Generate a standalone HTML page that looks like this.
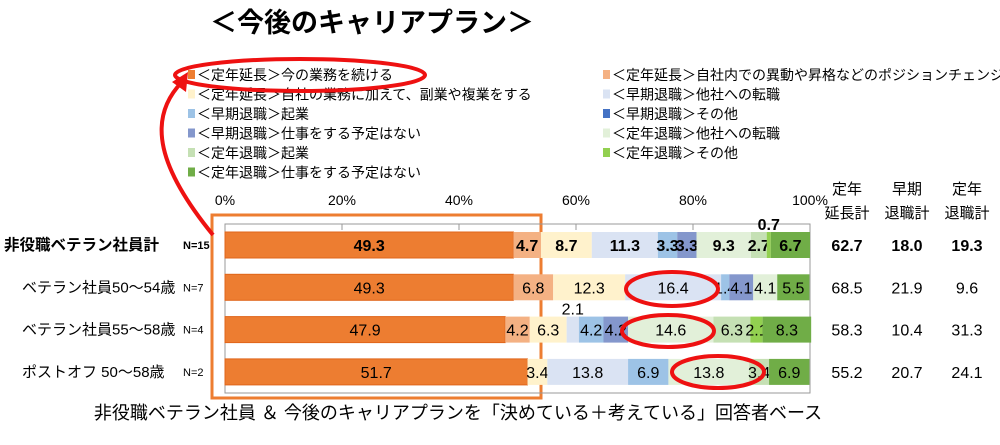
<!DOCTYPE html>
<html><head><meta charset="utf-8"><style>
body{margin:0;background:#fff;width:1000px;height:440px;overflow:hidden;font-family:"Liberation Sans","Noto Sans CJK JP",sans-serif}
svg text{font-family:"Liberation Sans","Noto Sans CJK JP",sans-serif}
</style></head><body>
<svg id="c" width="1000" height="440"></svg>
<script>
const categories=["非役職ベテラン社員計","ベテラン社員50～54歳","ベテラン社員55～58歳","ポストオフ 50～58歳"];
const sampleLabels=["N=15","N=7","N=4","N=2"];
const seriesNames=["＜定年延長＞今の業務を続ける","＜定年延長＞自社内での異動や昇格などのポジションチェンジ","＜定年延長＞自社の業務に加えて、副業や複業をする","＜早期退職＞他社への転職","＜早期退職＞起業","＜早期退職＞その他","＜早期退職＞仕事をする予定はない","＜定年退職＞他社への転職","＜定年退職＞起業","＜定年退職＞その他","＜定年退職＞仕事をする予定はない"];
const colors=["#ed7d31","#f4b183","#fff2cc","#dae3f3","#9dc3e6","#4472c4","#8497cc","#e2f0d9","#c5e0b4","#92d050","#70ad47"];
const row0=[49.3,4.7,8.7,11.3,3.3,0,3.3,9.3,2.7,0.7,6.7];
const row1=[49.3,6.8,12.3,16.4,1.4,0,4.1,4.1,0,0,5.5];
const row2=[47.9,4.2,6.3,2.1,4.2,0,4.2,14.6,6.3,2.1,8.3];
const row3=[51.7,0,3.4,13.8,6.9,0,0,13.8,3.4,0,6.9];
const rows=[row0,row1,row2,row3];
const totalHeaders=[["定年","延長計"],["早期","退職計"],["定年","退職計"]];
const totals=[[62.7,18.0,19.3],[68.5,21.9,9.6],[58.3,10.4,31.3],[55.2,20.7,24.1]];
const ticks=[0,20,40,60,80,100];

const NS="http://www.w3.org/2000/svg";
const svg=document.getElementById('c');
function el(tag,attrs,parent){const e=document.createElementNS(NS,tag);for(const k in attrs)e.setAttribute(k,attrs[k]);(parent||svg).appendChild(e);return e;}
const X0=225,X1=810,xs=v=>X0+(X1-X0)*v/100;
const rowY=i=>245+i*42.3;

let t=el('text',{x:210,y:32,'font-size':27,'font-weight':'bold',fill:'#000'});t.textContent="＜今後のキャリアプラン＞";


seriesNames.forEach((n,i)=>{
  const col=i%2,r=Math.floor(i/2);
  const x=col?603:188,y=75+r*19.5;
  const g=el('g',{});
  
  
  el('rect',{x:x,y:y-5,width:7,height:9,fill:colors[i]},g);
  const tx=el('text',{x:x+9,y:y+5,'font-size':14,fill:'#000'},g);tx.textContent=n;
});

let of=el('rect',{x:212,y:215,width:329,height:183,fill:'none',stroke:'#ed7d31','stroke-width':3});


el('rect',{x:X0,y:224,width:X1-X0,height:169,fill:'none',stroke:'#999','stroke-width':1});
ticks.forEach(v=>{
  el('line',{x1:xs(v),x2:xs(v),y1:224,y2:230,stroke:'#999'});
  const tk=el('text',{x:xs(v),y:205,'font-size':14,'text-anchor':'middle',fill:'#000'});tk.textContent=v+'%';
  
});

rows.forEach((vals,ri)=>{
  const cy=rowY(ri);let acc=0;
  const bold=ri===0;
  const cl=el('text',{x:ri===0?4:22,y:cy+5,'font-size':ri===0?15.5:15,'font-weight':bold?'bold':'normal',fill:'#000'});cl.textContent=categories[ri];
  
  const nl=el('text',{x:183,y:cy+4,'font-size':11,'font-weight':bold?'bold':'normal',fill:'#000'});nl.textContent=sampleLabels[ri];
  vals.forEach((v,si)=>{
    if(v<=0)return;
    const r=el('rect',{x:xs(acc),y:cy-13,width:xs(acc+v)-xs(acc),height:26,fill:colors[si],stroke:si===0?'#e0651a':'none','stroke-width':si===0?1:0});
    
    const mid=xs(acc+v/2);
    const above=v<1||(ri===2&&si===3);
    const lb=el('text',{x:mid,y:above?cy-15:cy+6,'font-size':16,'font-weight':bold?'bold':'normal','text-anchor':'middle',fill:'#000'});
    lb.textContent=v.toFixed(1);
    acc+=v;
  });
  totals[ri].forEach((v,k)=>{
    const tt=el('text',{x:847+k*60,y:cy+6,'font-size':16,'font-weight':bold?'bold':'normal','text-anchor':'middle',fill:'#000'});tt.textContent=v.toFixed(1);
    
  });
});
totalHeaders.forEach((h,k)=>{
  h.forEach((s,j)=>{const th=el('text',{x:847+k*60,y:194+j*24,'font-size':15,'text-anchor':'middle',fill:'#000'});th.textContent=s;});
});

[[300,75,125,16],[672,289,46,17],[668,331,46,16],[718,372,46,16]].forEach(e=>{
  const c=el('ellipse',{cx:e[0],cy:e[1],rx:e[2],ry:e[3],fill:'none',stroke:'#ee1111','stroke-width':4});
  
});
el('path',{d:'M213,235 C160,170 145,120 182,82',fill:'none',stroke:'#ee1111','stroke-width':4});
el('path',{d:'M188,72 L172,82 L186,92 Z',fill:'#ee1111'});

const ft=el('text',{x:458,y:419,'font-size':18,'text-anchor':'middle',fill:'#000'});
ft.textContent="非役職ベテラン社員 ＆ 今後のキャリアプランを「決めている＋考えている」回答者ベース";

</script>
</body></html>
